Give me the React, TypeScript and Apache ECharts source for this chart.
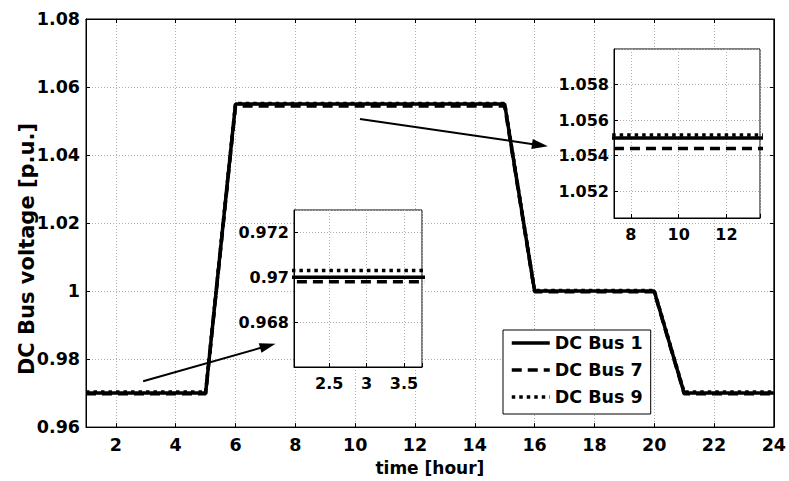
import React, { useEffect, useRef } from 'react';
import * as echarts from 'echarts';

const timeHours = [1, 5, 6, 15, 16, 20, 21, 24];
const bus1 = [0.97, 0.97, 1.055, 1.055, 1.0, 1.0, 0.97, 0.97];
const bus7 = [0.9698, 0.9698, 1.0544, 1.0544, 0.9998, 0.9998, 0.9698, 0.9698];
const bus9 = [0.9703, 0.9703, 1.05517, 1.05517, 1.0002, 1.0002, 0.9703, 0.9703];
const seriesNames = ['DC Bus 1', 'DC Bus 7', 'DC Bus 9'];
const lineTypes: any[] = ['solid', [10, 6], [3.5, 4]];
const arrowFrom = [[2.91, 0.9735], [10.16, 1.0506]];
const arrowTo = [[7.08, 0.9839], [16.18, 1.0429]];

const FONT = 'DejaVu Sans';

export default function App() {
  const ref = useRef<HTMLDivElement>(null);
  useEffect(() => {
    if (!ref.current) return;
    const chart = echarts.init(ref.current, null, { renderer: 'svg' });
    const allSeries = [bus1, bus7, bus9];
    const lbl = (size: number) => ({
      color: '#000',
      fontFamily: FONT,
      fontWeight: 'bold' as const,
      fontSize: size,
    });
    const gridLine = { show: true, lineStyle: { color: '#b0b0b0', type: [1, 2] as any, width: 1 } };
    const blackLine = { show: true, lineStyle: { color: '#000', width: 1 } };
    const tickIn = { show: true, inside: true, length: 4, lineStyle: { color: '#000' } };
    const isMult = (v: number, step: number) => Math.abs(v / step - Math.round(v / step)) < 1e-6;

    const series: any[] = [];
    const grids = [
      { x: 0, y: 0, z: 2 },
      { x: 2, y: 2, z: 6 },
      { x: 3, y: 3, z: 6 },
    ];
    grids.forEach((g, gi) => {
      allSeries.forEach((vals, si) => {
        const s: any = {
          type: 'line',
          name: seriesNames[si],
          xAxisIndex: g.x,
          yAxisIndex: g.y,
          data: timeHours.map((t, i) => [t, vals[i]]),
          symbol: 'none',
          showSymbol: false,
          clip: true,
          silent: true,
          z: g.z,
          lineStyle: { color: '#000', width: 3.5, type: lineTypes[si] },
          itemStyle: { color: '#000' },
        };
        if (gi === 0 && si === 0) {
          s.markLine = {
            silent: true,
            symbol: ['none', 'triangle'],
            symbolSize: [10, 16],
            label: { show: false },
            lineStyle: { color: '#000', width: 2, type: 'solid' },
            data: arrowFrom.map((f, i) => [{ coord: f }, { coord: arrowTo[i] }]),
          };
        }
        series.push(s);
      });
    });

    chart.setOption({
      animation: false,
      backgroundColor: '#fff',
      grid: [
        { left: 86, top: 19, width: 690, height: 409, show: true, borderColor: '#000', borderWidth: 1, backgroundColor: '#fff', z: 0 },
        { left: 294, top: 210, width: 128, height: 157, show: true, borderColor: '#000', borderWidth: 1, backgroundColor: '#fff', z: 4 },
        { left: 614, top: 49, width: 146, height: 169, show: true, borderColor: '#000', borderWidth: 1, backgroundColor: '#fff', z: 4 },
      ],
      xAxis: [
        {
          type: 'value', gridIndex: 0, min: 1, max: 24, splitNumber: 12,
          axisLine: blackLine, axisTick: tickIn, splitLine: gridLine,
          axisLabel: { ...lbl(17.5), margin: 9, formatter: (v: number) => (isMult(v, 2) ? String(v) : '') },
          name: 'time [hour]', nameLocation: 'middle', nameGap: 31, nameTextStyle: lbl(17),
        },
        {
          type: 'value', gridIndex: 0, position: 'top', min: 1, max: 24, splitNumber: 12,
          axisLine: blackLine, axisTick: tickIn, splitLine: { show: false }, axisLabel: { show: false },
        },
        {
          type: 'value', gridIndex: 1, min: 2.03, max: 3.74, splitNumber: 3, z: 5,
          axisLine: blackLine, axisTick: tickIn, splitLine: gridLine,
          axisLabel: { ...lbl(16), margin: 8, formatter: (v: number) => (isMult(v, 0.5) ? String(v) : '') },
        },
        {
          type: 'value', gridIndex: 2, min: 7.3, max: 13.4, splitNumber: 3, z: 5,
          axisLine: blackLine, axisTick: tickIn, splitLine: gridLine,
          axisLabel: { ...lbl(16), margin: 8, formatter: (v: number) => (isMult(v, 2) ? String(v) : '') },
        },
      ],
      yAxis: [
        {
          type: 'value', gridIndex: 0, min: 0.96, max: 1.08, interval: 0.02,
          axisLine: blackLine, axisTick: tickIn, splitLine: gridLine,
          axisLabel: { ...lbl(17.5), margin: 6 },
        },
        {
          type: 'value', gridIndex: 0, position: 'right', min: 0.96, max: 1.08, interval: 0.02,
          axisLine: blackLine, axisTick: tickIn, splitLine: { show: false }, axisLabel: { show: false },
        },
        {
          type: 'value', gridIndex: 1, min: 0.966, max: 0.973, interval: 0.002, z: 5,
          axisLine: blackLine, axisTick: tickIn, splitLine: gridLine,
          axisLabel: { ...lbl(16), margin: 5, showMinLabel: false, showMaxLabel: false,
            formatter: (v: number) => (isMult(v, 0.002) ? String(+v.toFixed(3)) : '') },
        },
        {
          type: 'value', gridIndex: 2, min: 1.0505, max: 1.06, splitNumber: 5, z: 5,
          axisLine: blackLine, axisTick: tickIn, splitLine: gridLine,
          axisLabel: { ...lbl(16), margin: 5, showMinLabel: false, showMaxLabel: false,
            formatter: (v: number) => (isMult(v, 0.002) ? (+v.toFixed(3)).toFixed(3) : '') },
        },
      ],
      legend: {
        data: seriesNames,
        orient: 'vertical',
        left: 503,
        top: 330,
        itemWidth: 38,
        itemHeight: 14,
        itemGap: 9,
        padding: [4, 8, 8, 7],
        borderColor: '#000',
        borderWidth: 1,
        backgroundColor: '#fff',
        textStyle: lbl(17.5),
        selectedMode: false,
        itemStyle: { opacity: 0, borderWidth: 0 },
        lineStyle: { width: 3.5 },
        z: 10,
      },
      graphic: [
        {
          type: 'text',
          x: 27,
          y: 249,
          rotation: Math.PI / 2,
          style: {
            text: 'DC Bus voltage [p.u.]',
            font: 'bold 21px "DejaVu Sans"',
            fill: '#000',
            align: 'center',
            verticalAlign: 'middle',
          },
        },
      ],
      series,
    });
    return () => chart.dispose();
  }, []);
  return (
    <div
      ref={ref}
      style={{ position: 'fixed', left: 0, top: 0, width: 789, height: 481, background: '#fff' }}
    />
  );
}
